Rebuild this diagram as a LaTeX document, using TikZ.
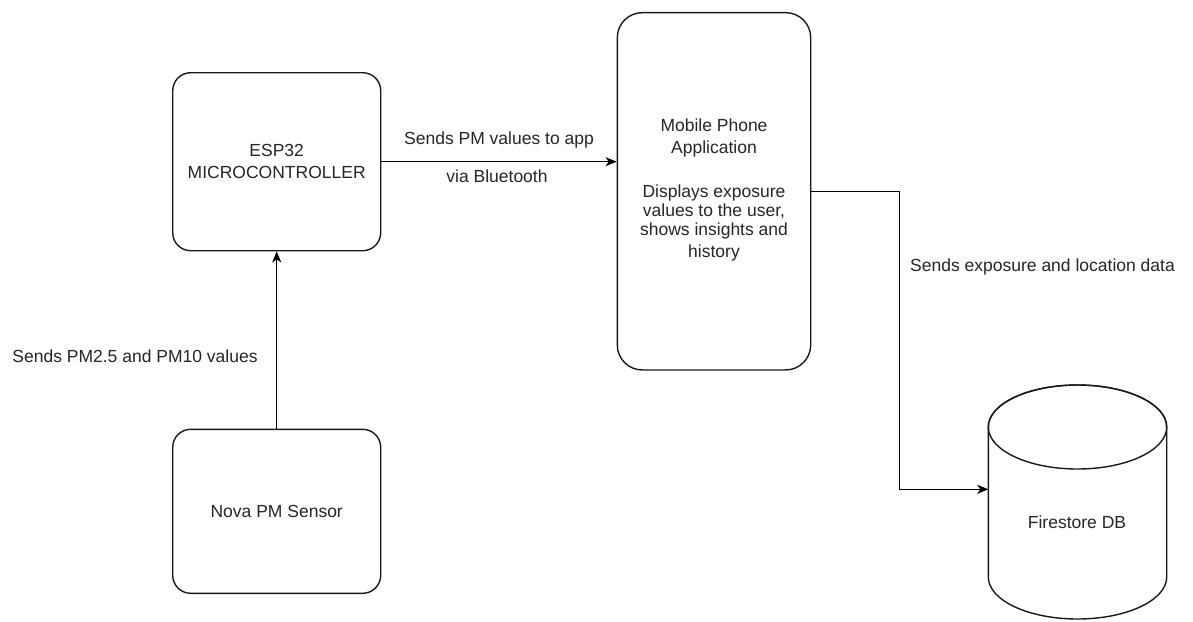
\documentclass[tikz,border=0pt]{standalone}
\usepackage{fontspec}
\setmainfont{Liberation Sans}
\usetikzlibrary{arrows.meta}
\begin{document}
\begin{tikzpicture}[x=1pt,y=-1pt,
  every node/.style={font=\fontsize{17.5}{22}\selectfont, text=black!85, inner sep=0pt},
  box/.style={draw=black!90, line width=1.4pt, fill=white, rounded corners=#1},
  box/.default=18pt,
  lbl/.style={align=center},
  conn/.style={draw=black, line width=1.4pt},
  arr/.style={conn, -{Stealth[length=11pt,width=9pt,inset=3pt]}}
]
\useasboundingbox[fill=white] (0,0) rectangle (1193,621);

% boxes
\node[box, minimum width=208pt, minimum height=178pt, align=center] (esp) at (276.7,161.7) {ESP32\\MICROCONTROLLER};
\node[box, minimum width=208pt, minimum height=164pt] (nova) at (276.7,511.3) {Nova PM Sensor};
\node[box=25pt, minimum width=193.4pt, minimum height=357.3pt] (mobile) at (714,191.3) {};
\node[lbl] (mobtxt) at (714,189.5) {Mobile Phone\\Application\\[22pt]Displays exposure\\[-3pt]values to the user,\\[-3pt]shows insights and\\history};

% cylinder
\draw[line width=1.4pt, draw=black!90, fill=white]
  (988.3,427) -- (988.3,577) arc[start angle=180, end angle=360, x radius=89.2pt, y radius=42pt]
  -- (1166.7,427) arc[start angle=0, end angle=180, x radius=89.2pt, y radius=42pt] -- cycle;
\draw[line width=1.4pt, draw=black!90] (1077.5,427) ellipse[x radius=89.2pt, y radius=42pt];
\node (db) at (1077,522.7) {Firestore DB};
\coordinate (dbin) at (988.3,489.3);
\coordinate (bend) at (899.3,191.3);

% connectors
\draw[arr] (esp.east) -- (mobile.west |- esp.east);
\draw[arr] (nova.north) -- (esp.south);
\draw[arr] (mobile.east) -- (bend) |- (dbin);

% labels
\node (l1) at (499,140) {Sends PM values to app};
\node (l2) at (497,176.7) {via Bluetooth};
\node (l3) at (135,356.7) {Sends PM2.5 and PM10 values};
\node[anchor=west] (l4) at (910,266.7) {Sends exposure and location data};
\end{tikzpicture}
\end{document}
